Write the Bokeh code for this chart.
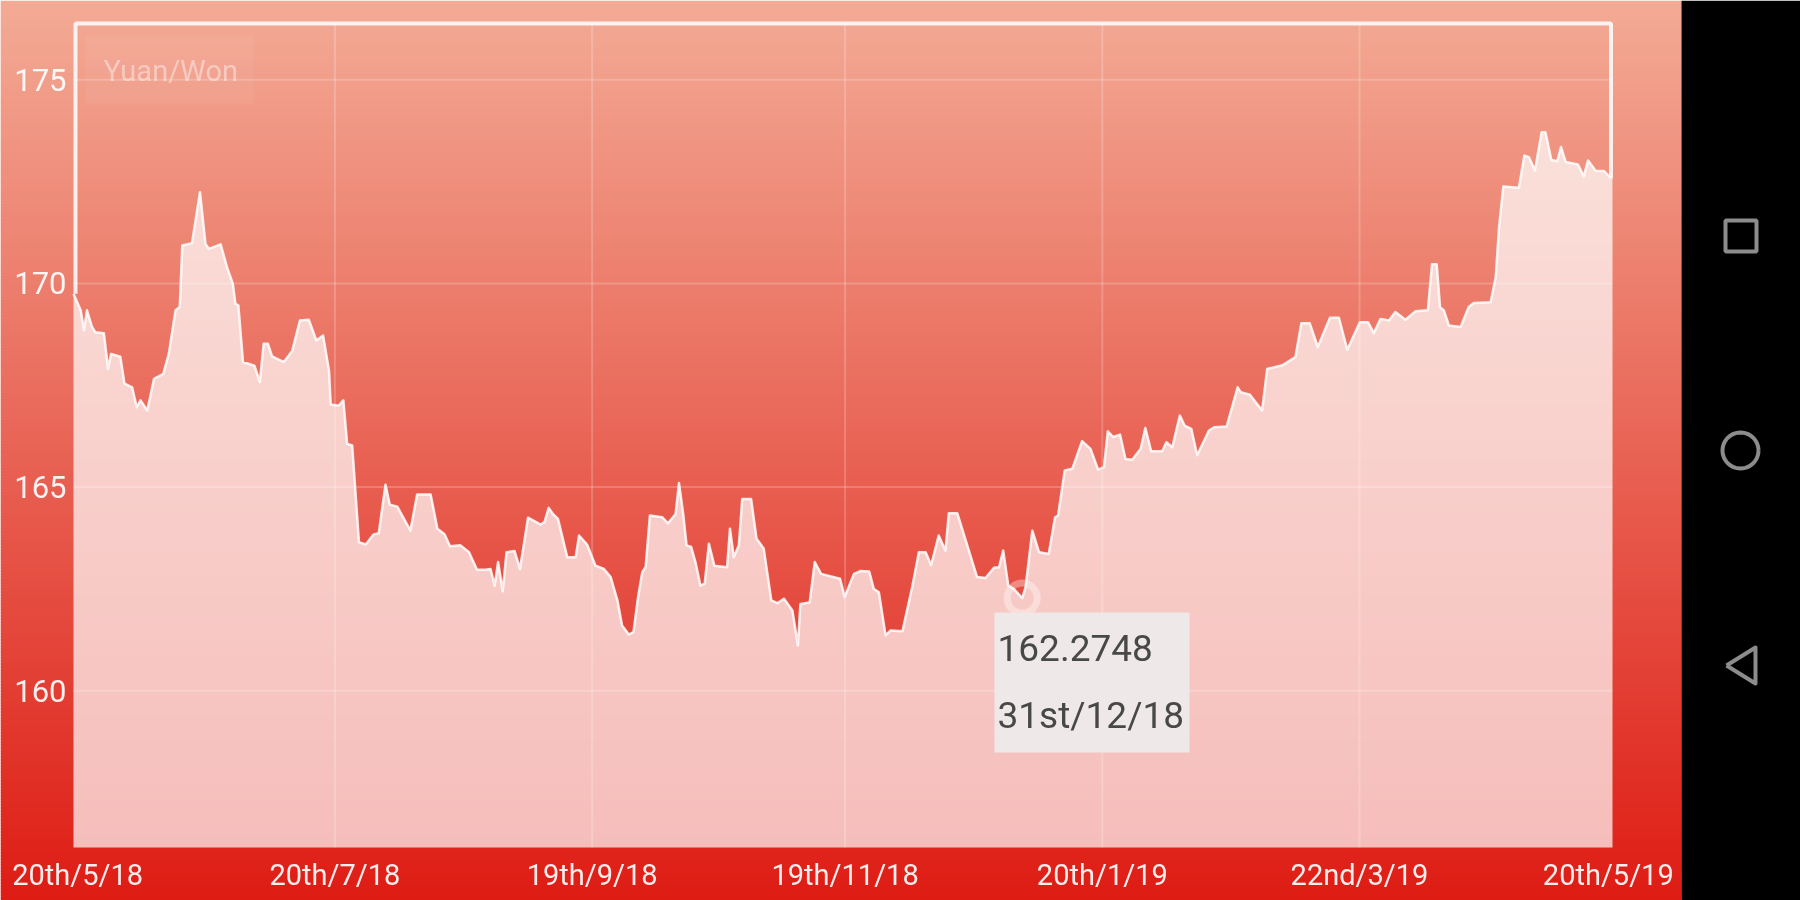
import math
from bokeh.plotting import figure
from bokeh.embed import file_html
from bokeh.resources import INLINE
from bokeh.models import Range1d, FixedTicker

days_a = [0,1.7,2.5,3.2,4.4,5.2,7.2,8.2,8.9,11.1,12.1,13.9,15,15.9,17.5,19.1,21.3,22.6,24.2,25.2,25.8,28.1,30,31.3,32.1,34.9,36.4,37.8,38.4,39.1,40.2,42.9,44.2,45.1,46.1,47.1,49.9,51.9,53.7,55.8,57.6,59.2,60.6]
rate_a = [169.75,169.34,168.85,169.34,168.93,168.80,168.78,167.90,168.27,168.20,167.54,167.45,166.96,167.13,166.88,167.66,167.78,168.27,169.34,169.42,170.93,170.99,172.24,170.97,170.85,170.96,170.40,169.99,169.50,169.46,168.07,167.98,167.58,168.52,168.52,168.21,168.07,168.35,169.09,169.11,168.60,168.72,167.86]
days_b = [61,62.9,64,64.9,66.1,67.7,69.3,71.2,72.4,74,75,76.8,79.9,81.5,84.7,86.3,88,89.3,91.8,93.8,95.7,97.7,98.9,99.9,100.7,101.8,102.7,104.6,105.9,107.8,110.8,111.7,112.7,113.7,114.9,117.1,119.1,119.9]
rate_b = [167.03,167.00,167.13,166.06,166.02,163.65,163.59,163.84,163.87,165.06,164.57,164.52,163.93,164.82,164.82,163.98,163.84,163.55,163.57,163.40,162.97,162.97,162.99,162.58,163.16,162.44,163.40,163.43,162.99,164.25,164.08,164.14,164.49,164.34,164.22,163.28,163.28,163.81]
days_c = [121.8,123.8,125.8,127.4,129,130.1,131.7,132.8,133.9,134.9,135.7,136.7,139.6,141,142.8,143.6,144.6,145.4,146.5,147.5,148.7,149.7,150.7,152,155,155.7,156.6,157.8,158.6,160.7,162,163.7,165.5,166.9,168.5,170.5,171.8,172.4,174.6,175.8,177.3,181.8]
rate_c = [163.59,163.07,162.99,162.79,162.22,161.60,161.38,161.44,162.30,162.91,163.04,164.30,164.26,164.11,164.34,165.10,164.34,163.57,163.53,163.16,162.58,162.63,163.61,163.07,163.03,163.98,163.28,163.57,164.71,164.71,163.73,163.49,162.22,162.15,162.26,161.97,161.11,162.13,162.17,163.16,162.87,162.75]
days_d = [182.9,185.1,186.7,188.7,189.8,191,192.6,193.8,196.6,198.9,200.5,202.1,203.4,205.2,206.8,207.6,209.6,211.6,214.3,216.3,218.3,219.5,220.5,221.7,223,225,225.8,227.4,229,231.3,232.8,233.5,235.1,236.9,239.2,241.2,243]
rate_d = [162.30,162.87,162.94,162.93,162.50,162.42,161.36,161.48,161.46,162.54,163.40,163.40,163.08,163.81,163.44,164.36,164.36,163.69,162.79,162.77,163.02,163.03,163.44,162.58,162.50,162.2748,162.54,163.93,163.40,163.36,164.26,164.30,165.41,165.45,166.13,165.94,165.43]
days_e = [244.4,245.3,246.6,248.2,249.5,251.1,253.1,254.2,255.6,258.2,259.2,260.6,262.4,263.5,265.1,266.5,269.3,270.5,273.5,276.1,276.8,279,281.9,283.1,286.7,289.8,291.2,293.2,295.1,298,300.1]
rate_e = [165.49,166.37,166.23,166.29,165.69,165.67,165.94,166.45,165.88,165.88,166.10,165.98,166.76,166.51,166.43,165.78,166.39,166.47,166.49,167.45,167.33,167.27,166.88,167.90,167.99,168.19,169.02,169.02,168.44,169.16,169.16]
days_f = [302.1,305.1,307,308.4,310,312,313.5,315.9,318.3,321.2,322.2,323.3,324.1,325,326.2,329,330.9,332.1,336.1,337.3,338.1,339.1,342.8,344.1,345.2,346.6,348.2,349.1,350.5,351.9,352.8,353.9,356.8,358.2,359.2,361,363,364.4,365]
rate_f = [168.37,169.05,169.05,168.78,169.13,169.09,169.30,169.11,169.32,169.34,170.47,170.47,169.42,169.34,168.97,168.93,169.42,169.52,169.54,170.15,171.38,172.38,172.35,173.14,173.10,172.77,173.71,173.71,173.03,173.00,173.35,172.98,172.92,172.63,173.02,172.77,172.76,172.61,172.60]

x_tick_days = [1, 62, 123, 183, 244, 305, 364]
x_tick_labels = ["20th/5/18", "20th/7/18", "19th/9/18", "19th/11/18", "20th/1/19", "22nd/3/19", "20th/5/19"]
y_ticks = [160, 165, 170, 175]
series_name = "Yuan/Won"
picked_day = 225
picked_value = 162.2748
picked_date = "31st/12/18"

days = days_a + days_b + days_c + days_d + days_e + days_f
rate = rate_a + rate_b + rate_c + rate_d + rate_e + rate_f
assert len(days) == len(rate)

W, H = 1800, 900
L, R, T, B = 73, 1612, 23, 847
PX_PER_DAY = (R - L) / 365
PX_PER_UNIT = 40.73
Y175 = 79.3


def dx(px):
    return (px - L) / PX_PER_DAY


def dy(py):
    return 175 - (py - Y175) / PX_PER_UNIT


# the frame fills the whole canvas: the axes sit at fixed places inside it
p = figure(width=W, height=H, output_backend="svg", toolbar_location=None,
           x_range=Range1d(dx(0), dx(W)), y_range=Range1d(dy(H), dy(0)),
           min_border=0)
p.styles = {"position": "fixed", "left": "0px", "top": "0px"}
p.background_fill_color = None
p.border_fill_color = None
p.outline_line_color = None
p.grid.visible = False

# vertical background gradient
c0, c1 = (243, 171, 150), (222, 28, 20)
g_left, g_right, g_top, g_bottom, g_color = [], [], [], [], []
for yy in range(0, H, 3):
    t = (yy + 1.5) / H
    col = tuple(round(a + (b - a) * t) for a, b in zip(c0, c1))
    g_left.append(dx(0)); g_right.append(dx(1681))
    g_top.append(dy(yy)); g_bottom.append(dy(yy + 4))
    g_color.append("#%02x%02x%02x" % col)
p.quad(left=g_left, right=g_right, top=g_top, bottom=g_bottom, fill_color=g_color, line_color=None, level="image")

# device navigation bar
p.quad(left=[dx(1681)], right=[dx(W)], top=[dy(0)], bottom=[dy(H)], fill_color="black", line_color=None, level="image")
GREY = "#8c8c8c"
p.quad(left=[dx(1725)], right=[dx(1756)], top=[dy(220)], bottom=[dy(251)], fill_color=None, line_color=GREY, line_width=4)
theta = [2 * math.pi * i / 48 for i in range(49)]
p.line([dx(1740 + 18 * math.cos(a)) for a in theta], [dy(450 + 18 * math.sin(a)) for a in theta], line_color=GREY, line_width=4)
p.line([dx(1726), dx(1755), dx(1755), dx(1726)], [dy(665), dy(647), dy(683), dy(665)], line_color=GREY, line_width=4, line_join="round")

# gridlines, kept inside the chart
GRID = dict(line_color="white", line_alpha=0.2, line_width=2)
inner = x_tick_days[1:-1]
p.segment(x0=inner, x1=inner, y0=[dy(B)] * len(inner), y1=[dy(T)] * len(inner), **GRID)
p.segment(x0=[0] * len(y_ticks), x1=[365] * len(y_ticks), y0=y_ticks, y1=y_ticks, **GRID)

p.xaxis.ticker = FixedTicker(ticks=x_tick_days)
p.xaxis.major_label_overrides = dict(zip(x_tick_days, x_tick_labels))
p.xaxis.fixed_location = dy(B)
p.yaxis.ticker = FixedTicker(ticks=y_ticks)
p.yaxis.fixed_location = 0
for ax, standoff, size in ((p.xaxis, 10, "29px"), (p.yaxis, 7, "31px")):
    ax.axis_line_color = None
    ax.major_tick_line_color = None
    ax.minor_tick_line_color = None
    ax.major_tick_out = 0
    ax.major_label_text_color = "white"
    ax.major_label_text_alpha = 0.92
    ax.major_label_text_font = "Roboto"
    ax.major_label_text_font_size = size
    ax.major_label_standoff = standoff

base = [dy(B)] * len(days)
p.varea(x=days, y1=base, y2=rate, fill_color="white", fill_alpha=0.7)
p.line(x=days, y=rate, line_color="white", line_alpha=0.85, line_width=2.5, line_join="round")
p.scatter(x=[picked_day], y=[picked_value], size=30, marker="circle", fill_color=None,
          line_color="white", line_alpha=0.35, line_width=7)

# chart border: only its part above the filled area shows in the reference
p.line([dx(75), dx(75), dx(1610.5), dx(1610.5)], [rate[0], dy(23), dy(23), rate[-1]],
       line_color="white", line_alpha=0.85, line_width=4)

# series name
p.quad(left=[dx(85)], right=[dx(253)], top=[dy(35)], bottom=[dy(103)], fill_color="white", fill_alpha=0.05, line_color=None)
p.text(x=[dx(103)], y=[dy(70)], text=[series_name], text_color="white", text_alpha=0.42,
       text_font={"value": "Roboto"}, text_font_size="29px", text_baseline="middle")

# tooltip
p.quad(left=[dx(994)], right=[dx(1189)], top=[dy(612)], bottom=[dy(752)], fill_color="#efe8e8", line_color=None)
p.text(x=[dx(997), dx(997)], y=[dy(647), dy(715)], text=[f"{picked_value:.4f}", picked_date], text_color="#484848",
       text_font={"value": "Roboto"}, text_font_size="37px", text_baseline="middle")

open("out.html", "w").write(file_html(p, INLINE))
